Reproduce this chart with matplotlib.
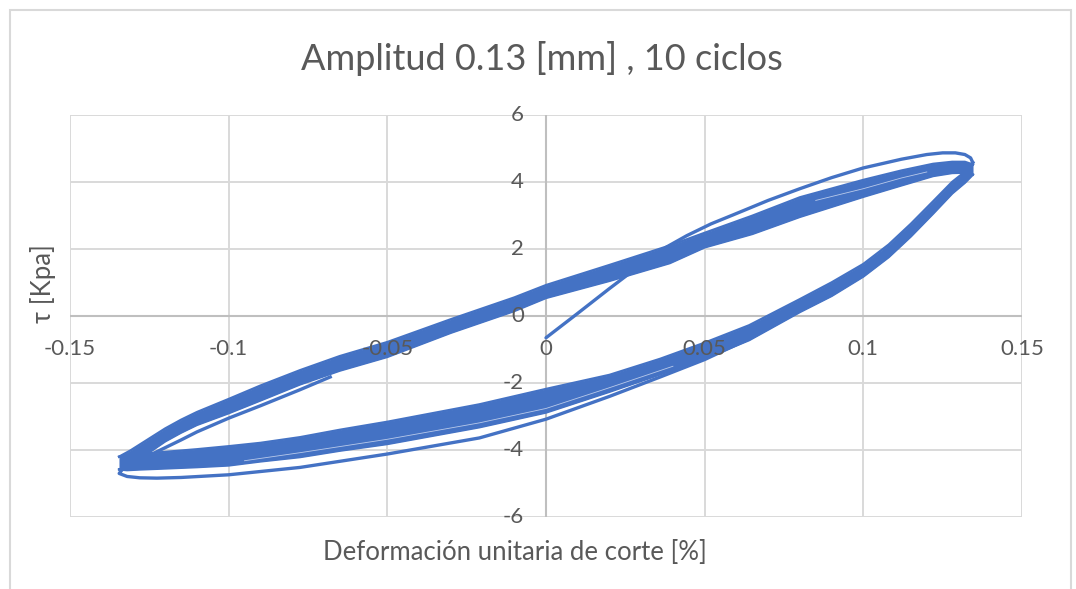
import matplotlib
matplotlib.use("Agg")
import matplotlib.pyplot as plt
from matplotlib.patches import Rectangle
from matplotlib.transforms import offset_copy

# ---------------- data ----------------
title = "Amplitud 0.13 [mm] , 10 ciclos"
x_title = "Deformación unitaria de corte [%]"
y_title = "τ [Kpa]"

x_ticks = [-0.15, -0.1, -0.05, 0.0, 0.05, 0.1, 0.15]
x_labels = ["-0.15", "-0.1", "-0.05", "0", "0.05", "0.1", "0.15"]
y_ticks = [-6, -4, -2, 0, 2, 4, 6]
y_labels = ["-6", "-4", "-2", "0", "2", "4", "6"]

# first loading (cycle 1)
strain_ini = [0.0, 0.01, 0.02, 0.0306, 0.038, 0.0444, 0.052, 0.059, 0.07, 0.08, 0.09, 0.1,
              0.112, 0.12, 0.125, 0.129, 0.132, 0.1338, 0.1345]
tau_ini = [-0.65, 0.08, 0.82, 1.58, 2.06, 2.4, 2.75, 3.02, 3.45, 3.8, 4.13, 4.42,
           4.68, 4.82, 4.87, 4.87, 4.82, 4.72, 4.58]

# first unloading (cycle 1, outer loop)
strain_c1_dn = [0.1345, 0.128, 0.122, 0.115, 0.1, 0.08, 0.064, 0.05, 0.036, 0.02, 0.0,
                -0.021, -0.05, -0.0775, -0.1, -0.115, -0.1226, -0.128, -0.132, -0.1345, -0.1335, -0.131]
tau_c1_dn = [4.58, 3.75, 3.15, 2.45, 1.25, 0.22, -0.68, -1.3, -1.82, -2.4, -3.08,
             -3.64, -4.12, -4.52, -4.74, -4.82, -4.84, -4.83, -4.79, -4.7, -4.58, -4.45]

# cycles 2-10, reloading branch (band limits)
strain_up = [-0.1345, -0.131, -0.128, -0.124, -0.12, -0.115, -0.11, -0.1, -0.09, -0.0775, -0.065,
             -0.05, -0.03, -0.01, 0.0, 0.02, 0.039, 0.05, 0.065, 0.08, 0.1, 0.112, 0.122,
             0.128, 0.132, 0.1345]
tau_up_hi = [-4.2, -4.02, -3.84, -3.6, -3.36, -3.1, -2.87, -2.48, -2.08, -1.62, -1.2,
             -0.78, -0.1, 0.55, 0.92, 1.52, 2.1, 2.48, 2.99, 3.54, 4.06, 4.34, 4.54,
             4.6, 4.6, 4.52]
tau_up_lo = [-4.58, -4.45, -4.27, -4.0, -3.74, -3.48, -3.25, -2.9, -2.52, -2.04, -1.63,
             -1.22, -0.5, 0.15, 0.54, 1.05, 1.58, 2.05, 2.45, 2.96, 3.56, 3.9, 4.18,
             4.27, 4.28, 4.22]

# inner reloading line near the left tip
strain_in = [-0.1335, -0.13, -0.126, -0.1226, -0.115, -0.11, -0.1, -0.09, -0.0775, -0.068]
tau_in = [-4.55, -4.42, -4.22, -4.05, -3.7, -3.46, -3.05, -2.68, -2.2, -1.82]

# cycles 2-10, unloading branch (band limits)
strain_dn = [0.1345, 0.132, 0.128, 0.122, 0.115, 0.108, 0.1, 0.09, 0.08, 0.064, 0.05, 0.036,
             0.02, 0.0, -0.021, -0.05, -0.065, -0.0775, -0.09, -0.1, -0.11, -0.1226, -0.128,
             -0.132, -0.1345]
tau_dn_hi = [4.52, 4.3, 4.0, 3.42, 2.75, 2.13, 1.55, 1.0, 0.5, -0.28, -0.8, -1.28,
             -1.76, -2.18, -2.64, -3.16, -3.4, -3.62, -3.79, -3.89, -3.98, -4.08, -4.12,
             -4.16, -4.2]
tau_dn_lo = [4.22, 3.98, 3.66, 3.06, 2.38, 1.76, 1.18, 0.6, 0.12, -0.72, -1.27, -1.74,
             -2.26, -2.88, -3.32, -3.82, -4.02, -4.21, -4.34, -4.46, -4.51, -4.56, -4.58,
             -4.6, -4.58]

# thin light gaps inside the bundles
strain_gap_dn = [-0.095, -0.0775, -0.05, -0.021, 0.0, 0.02, 0.04]
tau_gap_dn = [-4.32, -4.08, -3.68, -3.19, -2.76, -2.14, -1.5]
strain_gap_up = [0.085, 0.1, 0.112, 0.12]
tau_gap_up = [3.45, 3.8, 4.12, 4.3]

# ---------------- figure ----------------
W, H = 1076, 589
fig = plt.figure(figsize=(W / 100, H / 100), dpi=100)
fig.patch.set_facecolor("white")

FONT = ["Lato", "DejaVu Sans"]
TXT = "#595959"
BLUE = "#4472C4"

# chart border
fig.add_artist(Rectangle((10 / W, -0.05), (1071 - 10) / W, 1.05 - 10 / H,
                         transform=fig.transFigure, fill=False, ec="#D9D9D9", lw=1.5))

ax = fig.add_axes([70 / W, 1 - 517 / H, 952 / W, 402 / H])
ax.set_xlim(-0.15, 0.15)
ax.set_ylim(-6, 6)
for s in ax.spines.values():
    s.set_visible(False)
ax.set_xticks(x_ticks)
ax.set_yticks(y_ticks)
ax.tick_params(length=0, labelbottom=False, labelleft=False)
ax.grid(True, color="#D9D9D9", lw=1.4)
ax.set_axisbelow(True)
ax.axhline(0, color="#BFBFBF", lw=1.5, zorder=1)
ax.axvline(0, color="#BFBFBF", lw=1.5, zorder=1)

# data
LW = 2.4
EW = 1.8
ax.fill_between(strain_up, tau_up_lo, tau_up_hi, color=BLUE, lw=0, zorder=3)
ax.plot(strain_up, tau_up_hi, color=BLUE, lw=EW, zorder=3, solid_joinstyle="round")
ax.plot(strain_up, tau_up_lo, color=BLUE, lw=EW, zorder=3, solid_joinstyle="round")
ax.fill_between(strain_dn, tau_dn_lo, tau_dn_hi, color=BLUE, lw=0, zorder=3)
ax.plot(strain_dn, tau_dn_hi, color=BLUE, lw=EW, zorder=3, solid_joinstyle="round")
ax.plot(strain_dn, tau_dn_lo, color=BLUE, lw=EW, zorder=3, solid_joinstyle="round")
ax.plot(strain_gap_dn, tau_gap_dn, color="#B8C9EA", lw=0.6, zorder=3.2)
ax.plot(strain_gap_up, tau_gap_up, color="#B8C9EA", lw=0.6, zorder=3.2)
ax.plot(strain_in, tau_in, color=BLUE, lw=LW, zorder=3, solid_joinstyle="round")
ax.plot(strain_ini, tau_ini, color=BLUE, lw=LW, zorder=3, solid_capstyle="round",
        solid_joinstyle="round")
ax.plot(strain_c1_dn, tau_c1_dn, color=BLUE, lw=LW, zorder=3, solid_joinstyle="round")

# tick labels (drawn on top of the data, like the reference)
tx = offset_copy(ax.transData, fig=fig, x=0, y=-33, units="dots")
for v, lab in zip(x_ticks, x_labels):
    ax.text(v, 0, lab, transform=tx, ha="center", va="center", fontsize=16,
            color=TXT, family=FONT, zorder=5, clip_on=False)
ty = offset_copy(ax.transData, fig=fig, x=-22, y=0, units="dots")
for v, lab in zip(y_ticks, y_labels):
    ax.text(0, v, lab, transform=ty, ha="right", va="center", fontsize=16,
            color=TXT, family=FONT, zorder=5, clip_on=False)

# titles
fig.text(542 / W, 1 - 58 / H, title, ha="center", va="center", fontsize=26,
         color=TXT, family=FONT)
fig.text(515 / W, 1 - 553 / H, x_title, ha="center", va="center", fontsize=18.5,
         color=TXT, family=FONT)
fig.text(43 / W, 1 - 284 / H, y_title, ha="center", va="center", fontsize=18.5,
         color=TXT, family=FONT, rotation=90)

fig.savefig("out.png", dpi=100)
